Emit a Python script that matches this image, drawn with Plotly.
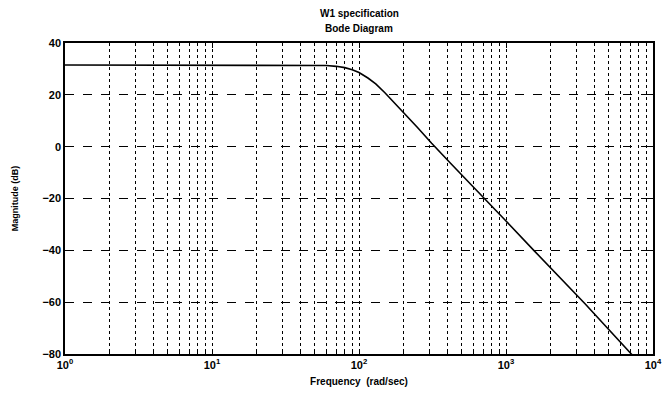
import plotly.graph_objects as go

# Data (frequency in rad/sec, magnitude in dB)
freq = [1, 3, 10, 30, 50, 60, 70, 80, 90, 100, 115, 130, 150, 176, 205, 250, 312, 421, 741, 1000, 1563, 3435, 7123, 10000]
mag_db = [31.5, 31.5, 31.5, 31.5, 31.45, 31.3, 31.0, 30.5, 29.7, 28.6, 26.5, 24.2, 20.8, 16.8, 12.6, 7.4, 1.3, -6.5, -20.8, -28.7, -40.3, -60.5, -80.0, -89.0]

decades = [1, 10, 100, 1000, 10000]
decade_labels = ["10<sup>0</sup>", "10<sup>1</sup>", "10<sup>2</sup>", "10<sup>3</sup>", "10<sup>4</sup>"]
minor_vals = [d * k for d in decades[:-1] for k in range(2, 10)]
y_ticks = [-80, -60, -40, -20, 0, 20, 40]

title_lines = ["W1 specification", "Bode Diagram"]
x_title = "Frequency  (rad/sec)"
y_title = "Magnitude (dB)"

FONT = "Liberation Sans, Arial, sans-serif"

fig = go.Figure()
fig.add_trace(go.Scatter(
    x=freq, y=mag_db, mode="lines",
    line=dict(color="black", width=1.6),
    showlegend=False, hoverinfo="skip",
))

fig.update_layout(
    width=672, height=396,
    margin=dict(l=65, r=10, t=43, b=42),
    paper_bgcolor="white", plot_bgcolor="white",
    font=dict(family=FONT, color="black", size=11),
    xaxis=dict(
        type="log", range=[0, 4],
        tickmode="array", tickvals=decades, ticktext=decade_labels,
        showgrid=True, gridcolor="black", gridwidth=1, griddash="dot",
        minor=dict(tickmode="array", tickvals=minor_vals, showgrid=True,
                   gridcolor="black", gridwidth=1, griddash="dot",
                   ticks="inside", ticklen=3, tickcolor="black"),
        showline=True, linecolor="black", linewidth=1.5, mirror="ticks",
        ticks="inside", ticklen=5, tickcolor="black",
        tickfont=dict(family=FONT, size=11, color="black", weight="bold"),
        title=dict(text=x_title, font=dict(family=FONT, size=10, weight="bold"), standoff=8),
        zeroline=False,
    ),
    yaxis=dict(
        range=[-80, 40],
        tickmode="array", tickvals=y_ticks,
        showgrid=True, gridcolor="black", gridwidth=1, griddash="dash",
        showline=True, linecolor="black", linewidth=1.5, mirror="ticks",
        ticks="inside", ticklen=5, tickcolor="black",
        tickfont=dict(family=FONT, size=11, color="black", weight="bold"),
        title=dict(text=y_title, font=dict(family=FONT, size=9, weight="bold"), standoff=22),
        zeroline=False,
    ),
)

fig.add_annotation(text=title_lines[0], x=0.5, y=1, xref="paper", yref="paper",
                   yshift=22, showarrow=False, yanchor="bottom",
                   font=dict(family=FONT, size=10, weight="bold"))
fig.add_annotation(text=title_lines[1], x=0.5, y=1, xref="paper", yref="paper",
                   yshift=7, showarrow=False, yanchor="bottom",
                   font=dict(family=FONT, size=10, weight="bold"))

fig.write_html("out.html")
